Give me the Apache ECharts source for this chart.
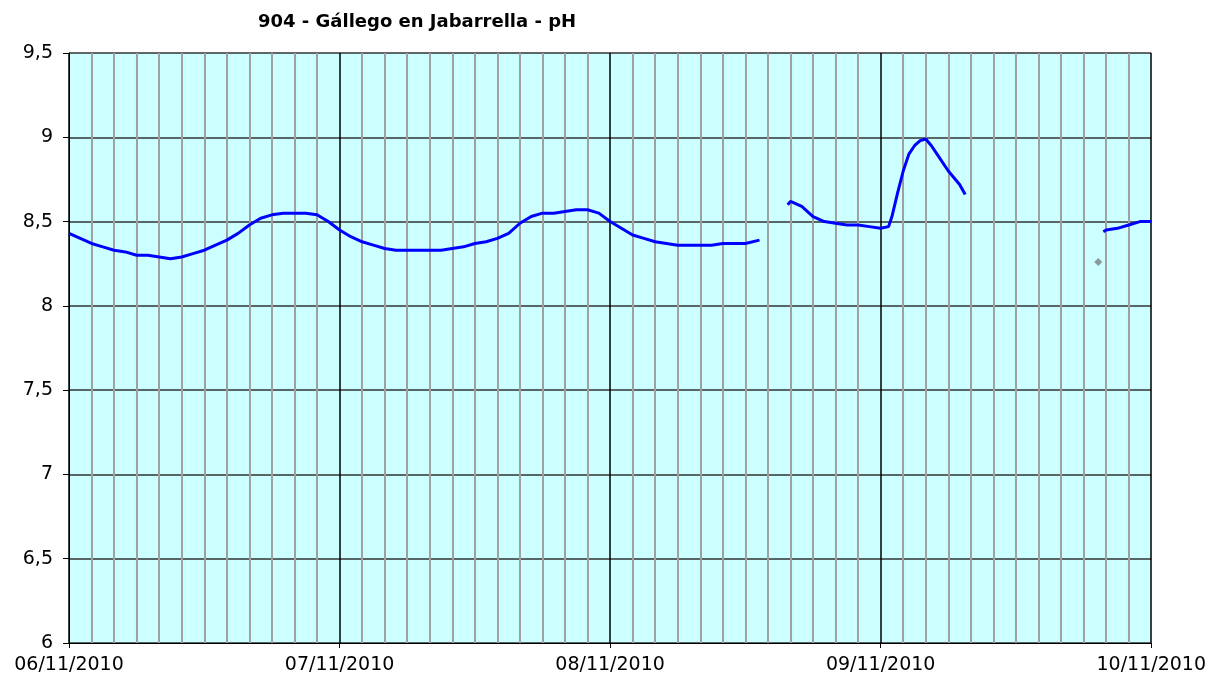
<!DOCTYPE html>
<html>
<head>
<meta charset="utf-8">
<script src="https://cdn.jsdelivr.net/npm/echarts@6/dist/echarts.min.js"></script>
<style>
  html, body { margin: 0; padding: 0; background: #fff; }
  #chart { width: 1209px; height: 677px; }
</style>
</head>
<body>
<div id="chart"></div>
<script>
// x values are hours since 06/11/2010 00:00
const dayLabels = ['06/11/2010', '07/11/2010', '08/11/2010', '09/11/2010', '10/11/2010'];

const seg1Hours = [0, 1, 2, 3, 4, 5, 6, 7, 8, 9, 10, 11, 12, 13, 14, 15, 16, 17, 18, 19, 20,
  21, 22, 23, 24, 25, 26, 27, 28, 29, 30, 31, 32, 33, 34, 35, 36, 37, 38, 39, 40,
  41, 42, 43, 44, 45, 46, 47, 48, 49, 50, 51, 52, 53, 54, 55, 56, 57, 58, 59, 60, 61.25];
const seg1Values = [8.43, 8.40, 8.37, 8.35, 8.33, 8.32, 8.30, 8.30, 8.29, 8.28, 8.29,
  8.31, 8.33, 8.36, 8.39, 8.43, 8.48, 8.52, 8.54, 8.55, 8.55,
  8.55, 8.54, 8.50, 8.45, 8.41, 8.38, 8.36, 8.34, 8.33, 8.33,
  8.33, 8.33, 8.33, 8.34, 8.35, 8.37, 8.38, 8.40, 8.43, 8.49,
  8.53, 8.55, 8.55, 8.56, 8.57, 8.57, 8.55, 8.50, 8.46, 8.42,
  8.40, 8.38, 8.37, 8.36, 8.36, 8.36, 8.36, 8.37, 8.37, 8.37, 8.39];

const seg2Hours = [63.75, 64, 65, 66, 67, 68, 69, 70, 71, 72, 72.7, 73, 73.5, 74, 74.5,
  75, 75.5, 76, 76.5, 77, 78, 79, 79.5];
const seg2Values = [8.60, 8.62, 8.59, 8.53, 8.50, 8.49, 8.48, 8.48, 8.47, 8.46, 8.47, 8.53, 8.67,
  8.80, 8.90, 8.95, 8.98, 8.99, 8.95, 8.90, 8.80, 8.72, 8.66];

const pointHours = [91.3];
const pointValues = [8.26];

const seg3Hours = [91.75, 92, 93, 94, 95, 96];
const seg3Values = [8.44, 8.45, 8.46, 8.48, 8.50, 8.50];

const pairs = (xs, ys) => xs.map((x, i) => [x, ys[i]]);

const chart = echarts.init(document.getElementById('chart'));

const lineSeries = data => ({
  type: 'line',
  data: data,
  showSymbol: false,
  lineStyle: { color: '#0000FF', width: 3 },
  itemStyle: { color: '#0000FF' },
  z: 3
});

const option = {
  animation: false,
  title: {
    text: '904 - Gállego en Jabarrella - pH',
    left: 253,
    top: 8,
    textStyle: { fontFamily: 'DejaVu Sans', fontSize: 18, fontWeight: 'bold', color: '#000' }
  },
  grid: {
    left: 69,
    right: 57,
    top: 53,
    bottom: 34,
    show: true,
    backgroundColor: '#CCFFFF',
    borderWidth: 0
  },
  xAxis: {
    type: 'value',
    min: 0,
    max: 96,
    interval: 24,
    axisLine: { show: true, onZero: false, lineStyle: { color: '#000', width: 1 } },
    axisTick: { show: true, length: 5, lineStyle: { color: '#000' } },
    axisLabel: {
      formatter: v => dayLabels[Math.round(v / 24)],
      fontFamily: 'DejaVu Sans',
      fontSize: 19,
      color: '#000',
      margin: 13,
      showMaxLabel: true
    },
    splitLine: { show: true, lineStyle: { color: '#000', width: 1.5 } },
    minorTick: { show: false, splitNumber: 12 },
    minorSplitLine: { show: true, lineStyle: { color: '#A0A0A0', width: 2 } }
  },
  yAxis: {
    type: 'value',
    min: 6,
    max: 9.5,
    interval: 0.5,
    axisLine: { show: true, lineStyle: { color: '#000', width: 1 } },
    axisTick: { show: true, length: 6, lineStyle: { color: '#000' } },
    axisLabel: {
      formatter: v => String(v).replace('.', ','),
      fontFamily: 'DejaVu Sans',
      fontSize: 19,
      color: '#000',
      margin: 16
    },
    splitLine: { show: true, lineStyle: { color: '#333', width: 1.5 } }
  },
  series: [
    lineSeries(pairs(seg1Hours, seg1Values)),
    lineSeries(pairs(seg2Hours, seg2Values)),
    lineSeries(pairs(seg3Hours, seg3Values)),
    {
      type: 'scatter',
      data: pairs(pointHours, pointValues),
      symbol: 'diamond',
      symbolSize: 8,
      itemStyle: { color: '#808080' },
      z: 4
    }
  ]
};

chart.setOption(option);
</script>
</body>
</html>
